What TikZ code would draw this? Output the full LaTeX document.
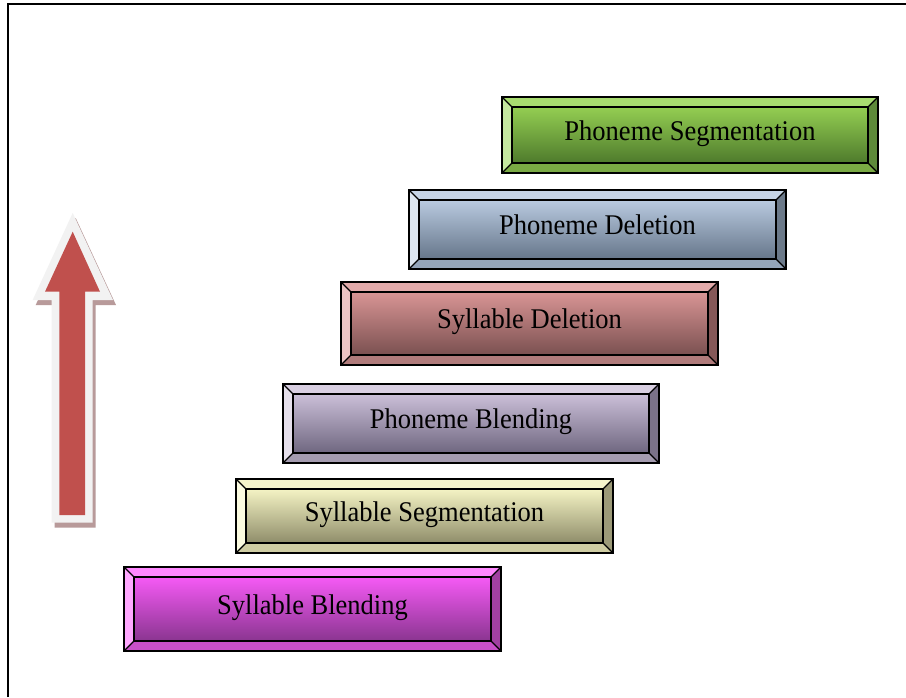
\documentclass[tikz,border=0pt]{standalone}
\usepackage{fontspec}
\usepackage{graphicx}
\setmainfont{Liberation Serif}
\usetikzlibrary{calc}
% colours: top bevel, left bevel, right bevel, bottom bevel, inner top, inner middle, inner bottom
\definecolor{ga-t}{HTML}{A8DC70}\definecolor{ga-l}{HTML}{C5E8A0}\definecolor{ga-r}{HTML}{5E8A3A}\definecolor{ga-b}{HTML}{7AAA44}
\definecolor{ga-1}{HTML}{94CE52}\definecolor{ga-2}{HTML}{84BC48}\definecolor{ga-3}{HTML}{4E7A2C}
\definecolor{gb-t}{HTML}{C6D4E6}\definecolor{gb-l}{HTML}{DDE6F0}\definecolor{gb-r}{HTML}{6C7A8A}\definecolor{gb-b}{HTML}{94A5BA}
\definecolor{gb-1}{HTML}{B9CAE0}\definecolor{gb-2}{HTML}{A8B8CC}\definecolor{gb-3}{HTML}{66768A}
\definecolor{gc-t}{HTML}{E2AAAA}\definecolor{gc-l}{HTML}{ECC4C4}\definecolor{gc-r}{HTML}{855858}\definecolor{gc-b}{HTML}{B07B7B}
\definecolor{gc-1}{HTML}{D99595}\definecolor{gc-2}{HTML}{C68888}\definecolor{gc-3}{HTML}{7A5050}
\definecolor{gd-t}{HTML}{D9CFE2}\definecolor{gd-l}{HTML}{E6E0EC}\definecolor{gd-r}{HTML}{7B7289}\definecolor{gd-b}{HTML}{A59CB0}
\definecolor{gd-1}{HTML}{CBBFD8}\definecolor{gd-2}{HTML}{B8ADC6}\definecolor{gd-3}{HTML}{6F6780}
\definecolor{ge-t}{HTML}{F6F5CC}\definecolor{ge-l}{HTML}{FBFBE0}\definecolor{ge-r}{HTML}{9C9A78}\definecolor{ge-b}{HTML}{CFCDA3}
\definecolor{ge-1}{HTML}{F4F3C4}\definecolor{ge-2}{HTML}{DEDCAF}\definecolor{ge-3}{HTML}{8F8D6A}
\definecolor{gf-t}{HTML}{FF88FF}\definecolor{gf-l}{HTML}{FFA8FF}\definecolor{gf-r}{HTML}{A040A0}\definecolor{gf-b}{HTML}{C850C8}
\definecolor{gf-1}{HTML}{F55AF5}\definecolor{gf-2}{HTML}{DE4EDE}\definecolor{gf-3}{HTML}{8A3590}
\definecolor{arrowred}{HTML}{C0504D}
\definecolor{arrowrim}{HTML}{F2F2F2}
\definecolor{arrowshadow}{HTML}{B89A9A}
\tikzset{
  bevelline/.style={draw=black,line width=1.3pt,line join=miter},
  labeltext/.style={font=\fontsize{28.5}{32}\selectfont,text=black,text height=16pt,text depth=6pt},
}
\newcommand{\bevbox}[6]{%
  % #1 id, #2 x1, #3 y1, #4 x2, #5 y2, #6 text
  \fill[#1-t] (#2,#3) -- (#4,#3) -- ({#4-10},{#3+10}) -- ({#2+10},{#3+10}) -- cycle;
  \fill[#1-b] (#2,#5) -- (#4,#5) -- ({#4-10},{#5-10}) -- ({#2+10},{#5-10}) -- cycle;
  \fill[#1-l] (#2,#3) -- ({#2+10},{#3+10}) -- ({#2+10},{#5-10}) -- (#2,#5) -- cycle;
  \fill[#1-r] (#4,#3) -- ({#4-10},{#3+10}) -- ({#4-10},{#5-10}) -- (#4,#5) -- cycle;
  \node[bevelline,anchor=north west,inner sep=0pt,outer sep=0pt,
        top color=#1-1,middle color=#1-2,bottom color=#1-3,
        minimum width={#4-#2-20},minimum height={#5-#3-20},labeltext]
        (#1) at ({#2+10},{#3+10}) {\scalebox{0.93}[1]{#6}};
  \draw[bevelline] (#2,#3) rectangle (#4,#5);
  \draw[bevelline] (#2,#3) -- (#1.north west) (#4,#3) -- (#1.north east)
                   (#2,#5) -- (#1.south west) (#4,#5) -- (#1.south east);
}
\begin{document}
\begin{tikzpicture}[x=1pt,y=-1pt]
\useasboundingbox (0,0) rectangle (906,697);
\fill[white] (0,0) rectangle (906,697);
% frame
\draw[line width=2pt] (8,697) -- (8,3.5) -- (906,3.5);
% arrow
\fill[arrowshadow] (75.7,218) -- (116,305) -- (95.7,305) -- (95.7,527.7) -- (54.7,527.7) -- (54.7,305) -- (35.7,305) -- cycle;
\fill[arrowrim] (72.7,213) -- (113,300) -- (92.7,300) -- (92.7,522.7) -- (51.7,522.7) -- (51.7,300) -- (32.7,300) -- cycle;
\fill[arrowred] (72.7,231.7) -- (100,291.7) -- (85,291.7) -- (85,515) -- (59.3,515) -- (59.3,291.7) -- (45,291.7) -- cycle;
% boxes
\bevbox{ga}{502}{97}{878}{173}{Phoneme Segmentation}
\bevbox{gb}{409}{190}{786}{269}{Phoneme Deletion}
\bevbox{gc}{341}{282}{718}{365}{Syllable Deletion}
\bevbox{gd}{283}{384}{659}{463}{Phoneme Blending}
\bevbox{ge}{236}{479}{613}{553}{Syllable Segmentation}
\bevbox{gf}{124}{567}{501}{651}{Syllable Blending}
\end{tikzpicture}
\end{document}
